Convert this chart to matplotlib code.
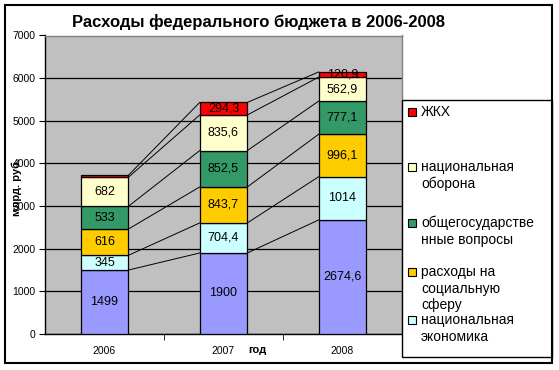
import numpy as np
import matplotlib.pyplot as plt
from matplotlib.patches import Rectangle

plt.rcParams['font.family'] = ['Liberation Sans', 'DejaVu Sans']

years = ['2006', '2007', '2008']
economy = [1499, 1900, 2674.6]
nat_econ = [345, 704.4, 1014]
social = [616, 843.7, 996.1]
general = [533, 852.5, 777.1]
defense = [682, 835.6, 562.9]
housing = [45, 294.3, 120.9]

series = [economy, nat_econ, social, general, defense, housing]
colors = ['#9999FF', '#CCFFFF', '#FFCC00', '#339966', '#FFFFCC', '#FF0000']
show_label = [[True] * 3] * 5 + [[False, True, True]]

legend_names = ['ЖКХ', 'национальная\nоборона', 'общегосударстве\nнные вопросы',
                'расходы на\nсоциальную\nсферу', 'национальная\nэкономика']
legend_colors = ['#FF0000', '#FFFFCC', '#339966', '#FFCC00', '#CCFFFF']
legend_y = [112, 167, 223, 272, 320]


def fmt(v):
    if float(v).is_integer():
        return str(int(v))
    return ('%.1f' % v).replace('.', ',')


fig = plt.figure(figsize=(5.59, 3.70), dpi=100)
ax = fig.add_axes([45/559, 1 - 334/370, (402 - 45)/559, (334 - 35.5)/370])
ax.set_facecolor('#C0C0C0')

x = np.arange(len(years))
w = 0.4
bottom = np.zeros(len(years))
for s, c, lab in zip(series, colors, show_label):
    vals = np.array(s, dtype=float)
    ax.bar(x, vals, w, bottom=bottom, color=c, edgecolor='black', linewidth=0.9, zorder=3)
    for i in range(len(years)):
        if lab[i]:
            ax.text(x[i], bottom[i] + vals[i] / 2, fmt(vals[i]), ha='center', va='center',
                    fontsize=9, zorder=5)
    top = bottom + vals
    # series lines between bars
    for i in range(len(years) - 1):
        ax.plot([x[i] + w/2, x[i+1] - w/2], [top[i], top[i+1]], color='black', lw=0.7, zorder=4)
    bottom = top

ax.set_xlim(-0.5, 2.5)
ax.set_ylim(0, 7000)
ax.set_yticks(np.arange(0, 7001, 1000))
ax.yaxis.grid(True, color='black', lw=0.9, zorder=1)
ax.set_axisbelow(True)
ax.set_xticks(x)
ax.set_xticklabels(years, fontsize=7.5)
ax.set_xticks([0.5, 1.5], minor=True)
ax.tick_params(axis='x', which='major', length=0, pad=9)
ax.tick_params(axis='x', which='minor', length=4, direction='out')
ax.tick_params(axis='y', labelsize=7.5, length=4, direction='out', pad=3)
for sp in ['top', 'right']:
    ax.spines[sp].set_color('#808080')
    ax.spines[sp].set_linewidth(1)
ax.spines['left'].set_linewidth(1)
ax.spines['bottom'].set_linewidth(1)

fig.text(258/559, 1 - 22/370, 'Расходы федерального бюджета в 2006-2008', ha='center', va='center',
         fontsize=12, fontweight='bold')
fig.text(17/559, 1 - 187/370, 'млрд. руб.', rotation=90, ha='center', va='center',
         fontsize=8, fontweight='bold')
fig.text(257/559, 1 - 350/370, 'год', ha='center', va='center', fontsize=8, fontweight='bold')

# legend box
fig.add_artist(Rectangle((402/559, 1 - 357/370), (552 - 402)/559, (357 - 100)/370,
                         transform=fig.transFigure, facecolor='white', edgecolor='black', lw=1))
for name, c, y in zip(legend_names, legend_colors, legend_y):
    fig.add_artist(Rectangle((408/559, 1 - (y + 4)/370), 8/559, 8/370, transform=fig.transFigure,
                             facecolor=c, edgecolor='black', lw=0.8))
    fig.text(421/559, 1 - (y - 7)/370, name, ha='left', va='top', fontsize=10, linespacing=1.25)

# chart border
fig.add_artist(Rectangle((5/559, 1 - 363/370), 547/559, 358/370, transform=fig.transFigure,
                         facecolor='none', edgecolor='black', lw=1.5))

fig.savefig('out.png', dpi=100)
